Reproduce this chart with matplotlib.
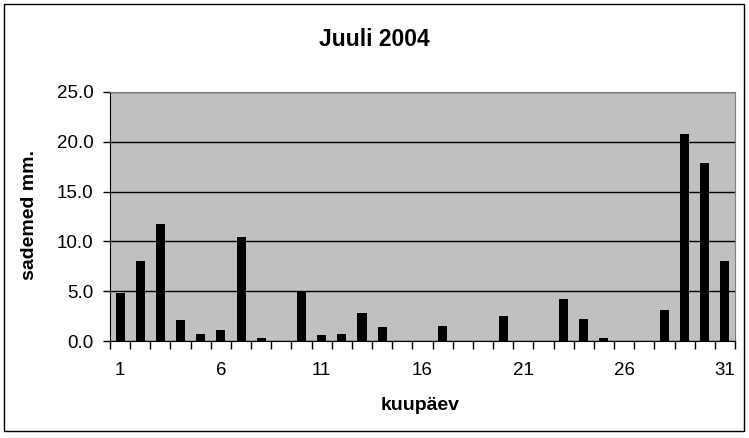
import matplotlib

matplotlib.use("Agg")
import matplotlib.pyplot as plt
from matplotlib.patches import Rectangle

plt.rcParams["font.family"] = ["Liberation Sans", "DejaVu Sans"]

days = list(range(1, 32))
rain_mm = [4.8, 8.0, 11.7, 2.1, 0.7, 1.1, 10.4, 0.3, 0.0, 5.0,
           0.6, 0.7, 2.8, 1.4, 0.0, 0.0, 1.5, 0.0, 0.0, 2.5,
           0.0, 0.0, 4.2, 2.2, 0.3, 0.0, 0.0, 3.1, 20.8, 17.9, 8.0]
y_ticks = [0, 5, 10, 15, 20, 25]
x_labels = [1, 6, 11, 16, 21, 26, 31]

W, H = 749, 438
fig = plt.figure(figsize=(W / 100, H / 100), dpi=100)
fig.patch.set_facecolor("white")
fig.patches.append(Rectangle((4 / W, 1 - 431 / H), 740 / W, 427 / H,
                             transform=fig.transFigure, fill=False,
                             edgecolor="black", linewidth=1.0))

ax = fig.add_axes([110 / W, 1 - 341 / H, 625 / W, 249 / H])
ax.set_facecolor("#C0C0C0")
ax.bar(days, rain_mm, width=0.45, color="black", zorder=3)

ax.set_xlim(0.5, 31.5)
ax.set_ylim(0, 25)
ax.set_yticks(y_ticks)
ax.set_yticklabels([f"{v:.1f}" for v in y_ticks])
ax.yaxis.grid(True, color="black", linewidth=1.0, zorder=1)
ax.set_axisbelow(True)

# ticks sit between the days, labels every 5th day
ax.set_xticks([d + 0.5 for d in range(0, 32)])
ax.set_xticklabels([])
ax.set_xticks(x_labels, minor=True)
ax.set_xticklabels([str(d) for d in x_labels], minor=True)
ax.tick_params(axis="x", which="major", length=6, width=1, direction="out")
ax.tick_params(axis="x", which="minor", length=0, pad=15, labelsize=13.5)
ax.tick_params(axis="y", length=5, width=1, direction="out", pad=7, labelsize=13.5)

for side in ("top", "right"):
    ax.spines[side].set_color("#808080")
ax.spines["left"].set_color("black")
ax.spines["bottom"].set_color("black")

fig.text(420 / W, 1 - 405 / H, "kuupäev", ha="center", va="center",
         fontsize=14, fontweight="bold")
fig.text(30 / W, 1 - 215 / H, "sademed mm.", ha="center", va="center",
         rotation=90, fontsize=14, fontweight="bold")
fig.text(374 / W, 1 - 40 / H, "Juuli 2004", ha="center", va="center",
         fontsize=16.5, fontweight="bold")

fig.savefig("out.png", dpi=100)
